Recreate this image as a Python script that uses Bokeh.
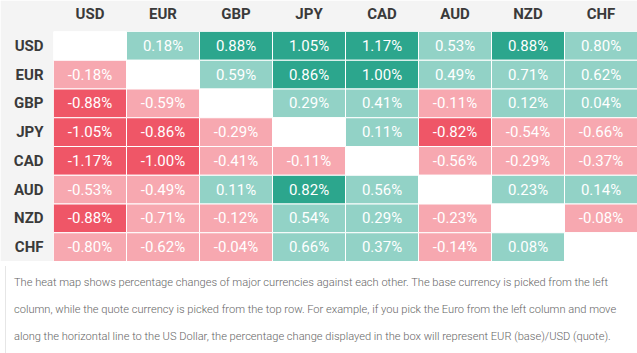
from bokeh.plotting import figure
from bokeh.models import ColumnDataSource, Div, FactorRange
from bokeh.layouts import column
from bokeh.core.properties import value
from bokeh.embed import file_html
from bokeh.resources import INLINE

currencies = ["USD", "EUR", "GBP", "JPY", "CAD", "AUD", "NZD", "CHF"]

# rows = base currency, columns = quote currency (percent change)
usd_row = [None, 0.18, 0.88, 1.05, 1.17, 0.53, 0.88, 0.80]
eur_row = [-0.18, None, 0.59, 0.86, 1.00, 0.49, 0.71, 0.62]
gbp_row = [-0.88, -0.59, None, 0.29, 0.41, -0.11, 0.12, 0.04]
jpy_row = [-1.05, -0.86, -0.29, None, 0.11, -0.82, -0.54, -0.66]
cad_row = [-1.17, -1.00, -0.41, -0.11, None, -0.56, -0.29, -0.37]
aud_row = [-0.53, -0.49, 0.11, 0.82, 0.56, None, 0.23, 0.14]
nzd_row = [-0.88, -0.71, -0.12, 0.54, 0.29, -0.23, None, -0.08]
chf_row = [-0.80, -0.62, -0.04, 0.66, 0.37, -0.14, 0.08, None]

rows = [usd_row, eur_row, gbp_row, jpy_row, cad_row, aud_row, nzd_row, chf_row]

caption_lines = [
    "The heat map shows percentage changes of major currencies against each other. The base currency is picked from the left",
    "column, while the quote currency is picked from the top row. For example, if you pick the Euro from the left column and move",
    "along the horizontal line to the US Dollar, the percentage change displayed in the box will represent EUR (base)/USD (quote).",
]

DARK_GREEN = "#2ca68d"
LIGHT_GREEN = "#92d2c6"
DARK_RED = "#ef5667"
LIGHT_RED = "#f7a8b0"


def colour(v):
    if v is None:
        return "#ffffff"
    if v > 0.81:
        return DARK_GREEN
    if v > 0:
        return LIGHT_GREEN
    if v < -0.81:
        return DARK_RED
    return LIGHT_RED


xs, ys, cols, labels = [], [], [], []
for base, row in zip(currencies, rows):
    for quote, v in zip(currencies, row):
        xs.append(quote)
        ys.append(base)
        cols.append(colour(v))
        labels.append("" if v is None else "%.2f%%" % v)

src = ColumnDataSource(dict(x=xs, y=ys, c=cols, t=labels))

p = figure(
    width=637, height=261,
    x_range=FactorRange(*currencies),
    y_range=FactorRange(*list(reversed(currencies))),
    x_axis_location="above",
    output_backend="svg", toolbar_location=None,
    min_border_left=53, min_border_top=31, min_border_right=0, min_border_bottom=0,
)
p.border_fill_color = "#f4f4f4"
p.background_fill_color = "#ffffff"
p.outline_line_color = None
p.grid.grid_line_color = None

p.rect(x="x", y="y", width=1, height=1, source=src, fill_color="c",
       line_color="#ffffff", line_width=1)
p.text(x="x", y="y", text="t", source=src, text_align="center",
       text_baseline="middle", text_color="#ffffff",
       text_font=value("Roboto"), text_font_size="15px")

for ax in (p.xaxis[0], p.yaxis[0]):
    ax.axis_line_color = None
    ax.major_tick_line_color = None
    ax.minor_tick_line_color = None
    ax.major_tick_out = 0
    ax.major_tick_in = 0
    ax.minor_tick_out = 0
    ax.minor_tick_in = 0
    ax.major_label_text_font = "Roboto"
    ax.major_label_text_font_style = "bold"
    ax.major_label_text_font_size = "15px"
    ax.major_label_text_color = "#3a3a3a"
p.xaxis.major_label_standoff = 9
p.yaxis.major_label_standoff = 10

div = Div(
    text="<br>".join(caption_lines),
    width=637, height=92,
    styles={
        "font-family": "Roboto",
        "font-size": "11.1px",
        "font-weight": "300",
        "color": "#666666",
        "line-height": "27px",
        "white-space": "nowrap",
        "padding-top": "3px",
        "padding-left": "8px",
        "border-left": "1px solid #e6e6e6",
        "box-sizing": "border-box",
    },
)

layout = column(p, div, spacing=0)
open("out.html", "w").write(file_html(layout, INLINE))
